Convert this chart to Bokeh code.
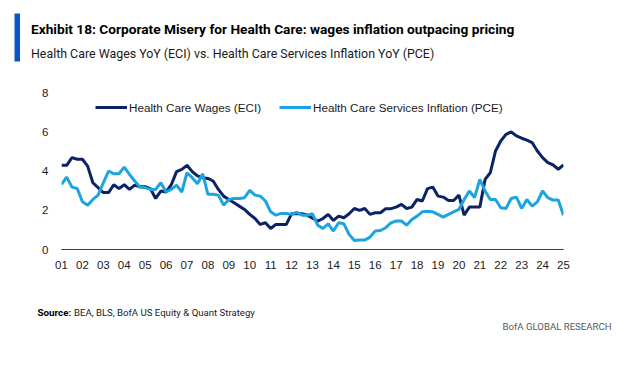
from bokeh.plotting import figure
from bokeh.layouts import column, row
from bokeh.models import (ColumnDataSource, FixedTicker, Label, Legend, LegendItem,
                          BoxAnnotation, Range1d)
from bokeh.embed import file_html
from bokeh.resources import INLINE

# ---------------- data (quarterly, 2001Q1 .. 2025Q1) ----------------
start_year = 2001
eci_wages = [
    4.29, 4.29, 4.68, 4.60,   # 2001
    4.60, 4.25, 3.40, 3.15,   # 2002
    2.90, 2.90, 3.30, 3.10,   # 2003
    3.30, 3.06, 3.28, 3.20,   # 2004
    3.20, 3.10, 2.60, 2.98,   # 2005
    2.93, 3.30, 3.97, 4.08,   # 2006
    4.29, 3.97, 3.75, 3.66,   # 2007
    3.62, 3.49, 3.06, 2.72,   # 2008
    2.55, 2.38, 2.21, 2.04,   # 2009
    1.79, 1.58, 1.28, 1.36,   # 2010
    1.07, 1.28, 1.28, 1.28,   # 2011
    1.82, 1.82, 1.82, 1.75,   # 2012
    1.60, 1.45, 1.58, 1.79,   # 2013
    1.48, 1.70, 1.62, 1.82,   # 2014
    2.09, 1.99, 2.09, 1.79,   # 2015
    1.87, 1.87, 2.08, 2.08,   # 2016
    2.16, 2.30, 2.09, 2.16,   # 2017
    2.55, 2.47, 3.10, 3.18,   # 2018
    2.72, 2.67, 2.50, 2.50,   # 2019
    2.77, 1.75, 2.16, 2.16,   # 2020
    2.16, 3.57, 3.91, 5.02,   # 2021
    5.53, 5.87, 5.99, 5.79,   # 2022
    5.67, 5.57, 5.45, 5.02,   # 2023
    4.68, 4.43, 4.31, 4.09,   # 2024
    4.31,                     # 2025
]
pce_services = [
    3.32, 3.69, 3.18, 3.11,   # 2001
    2.43, 2.26, 2.55, 2.77,   # 2002
    3.40, 4.00, 3.86, 3.86,   # 2003
    4.20, 3.83, 3.49, 3.18,   # 2004
    3.15, 3.06, 3.06, 3.40,   # 2005
    2.93, 3.06, 3.28, 2.93,   # 2006
    3.91, 3.66, 3.35, 3.86,   # 2007
    2.81, 2.81, 2.77, 2.26,   # 2008
    2.55, 2.60, 2.60, 2.64,   # 2009
    3.01, 2.77, 2.72, 2.47,   # 2010
    1.92, 1.75, 1.84, 1.84,   # 2011
    1.79, 1.90, 1.75, 1.75,   # 2012
    1.82, 1.24, 1.07, 1.31,   # 2013
    0.94, 1.36, 1.31, 0.77,   # 2014
    0.46, 0.48, 0.48, 0.63,   # 2015
    0.94, 0.97, 1.11, 1.36,   # 2016
    1.45, 1.45, 1.24, 1.53,   # 2017
    1.70, 1.92, 1.95, 1.92,   # 2018
    1.79, 1.65, 1.79, 1.92,   # 2019
    2.04, 2.55, 2.98, 2.64,   # 2020
    3.57, 2.98, 2.55, 2.55,   # 2021
    2.13, 2.09, 2.60, 2.67,   # 2022
    2.09, 2.55, 2.21, 2.43,   # 2023
    2.98, 2.64, 2.52, 2.52,   # 2024
    1.75,                     # 2025
]
tick_years = list(range(2001, 2026))
tick_labels = ["01", "02", "03", "04", "05", "06", "07", "08", "09", "10", "11", "12",
               "13", "14", "15", "16", "17", "18", "19", "20", "21", "22", "23", "24", "25"]
y_ticks = [0, 2, 4, 6, 8]
series_names = ["Health Care Wages (ECI)", "Health Care Services Inflation (PCE)"]
title_text = "Exhibit 18: Corporate Misery for Health Care: wages inflation outpacing pricing"
subtitle_text = "Health Care Wages YoY (ECI) vs. Health Care Services Inflation YoY (PCE)"
source_head = "Source:"
source_text = "BEA, BLS, BofA US Equity & Quant Strategy"
brand_text = "BofA GLOBAL RESEARCH"

quarter_x = [start_year + i / 4 for i in range(len(eci_wages))]

DARK = "#0b2265"
LIGHT = "#1ba4df"
HEAD_FONT = "Roboto"
ARIAL = "Liberation Sans"
W = 640


def blank(height, y_top, y_bottom):
    f = figure(width=W, height=height, output_backend="svg", toolbar_location=None,
               x_range=Range1d(0, W), y_range=Range1d(y_bottom, y_top),
               x_axis_type=None, y_axis_type=None, title=None,
               min_border=0, min_border_left=0, min_border_right=0,
               min_border_top=0, min_border_bottom=0)
    f.outline_line_color = None
    f.grid.visible = False
    return f


# ---------------- header ----------------
head = blank(70, 0, 70)
head.add_layout(BoxAnnotation(left=14, right=19.5, top=13, bottom=61,
                              fill_color="#0a55c8", fill_alpha=1, line_color=None))
head.add_layout(Label(x=30.5, y=28.8, text=title_text, text_font=HEAD_FONT,
                      text_font_style="bold", text_font_size="13.7px",
                      text_baseline="alphabetic", text_color="#000000"))
head.add_layout(Label(x=30.5, y=53, text=subtitle_text, text_font=HEAD_FONT,
                      text_font_size="12.4px", text_baseline="alphabetic",
                      text_color="#1a1a1a"))

# ---------------- main chart ----------------
src = ColumnDataSource(dict(x=quarter_x, eci=eci_wages, pce=pce_services))

p = figure(width=W, height=215, output_backend="svg", toolbar_location=None, title=None,
           x_range=Range1d(2001, 2025), y_range=Range1d(0, 8),
           min_border_left=61, min_border_right=77, min_border_top=22, min_border_bottom=36)
p.outline_line_color = None
p.grid.visible = False

r1 = p.line("x", "eci", source=src, line_color=DARK, line_width=3)
r2 = p.line("x", "pce", source=src, line_color=LIGHT, line_width=3)

xa = p.xaxis[0]
xa.ticker = FixedTicker(ticks=tick_years)
xa.major_label_overrides = {y: l for y, l in zip(tick_years, tick_labels)}
xa.axis_line_color = "#3a3a3a"
xa.axis_line_width = 1.2
xa.major_tick_line_color = None
xa.minor_tick_line_color = None
xa.major_tick_out = 0
xa.major_tick_in = 0
xa.major_label_standoff = 11
xa.major_label_text_font = ARIAL
xa.major_label_text_font_size = "11.5px"
xa.major_label_text_color = "#1a1a1a"

ya = p.yaxis[0]
ya.ticker = FixedTicker(ticks=y_ticks)
ya.axis_line_color = None
ya.major_tick_line_color = None
ya.minor_tick_line_color = None
ya.major_tick_out = 0
ya.major_tick_in = 0
ya.major_label_standoff = 13
ya.major_label_text_font = ARIAL
ya.major_label_text_font_size = "11.5px"
ya.major_label_text_color = "#1a1a1a"

legend = Legend(items=[LegendItem(label=series_names[0], renderers=[r1]),
                       LegendItem(label=series_names[1], renderers=[r2])],
                location=(34, 134), orientation="horizontal",
                padding=0, margin=0, spacing=18, label_standoff=2,
                glyph_width=32, glyph_height=16,
                label_text_font=ARIAL, label_text_font_size="11.7px",
                label_text_color="#1a1a1a",
                border_line_color=None, background_fill_alpha=0)
p.add_layout(legend, "center")

# ---------------- footer ----------------
foot = blank(87, 285, 372)
foot.add_layout(Label(x=37, y=311.5, text=source_head, text_font=HEAD_FONT,
                      text_font_style="bold", text_font_size="9.8px",
                      text_baseline="alphabetic", text_color="#000000"))
foot.add_layout(Label(x=73.5, y=311.5, text=source_text, text_font=HEAD_FONT,
                      text_font_size="9.6px", text_baseline="alphabetic",
                      text_color="#1a1a1a"))
foot.add_layout(Label(x=611, y=326, text=brand_text, text_font=HEAD_FONT,
                      text_align="right", text_font_size="9.6px",
                      text_baseline="middle", text_color="#595959"))

layout = column(row(head), row(p), row(foot), spacing=0)
open("out.html", "w").write(file_html(layout, INLINE))
